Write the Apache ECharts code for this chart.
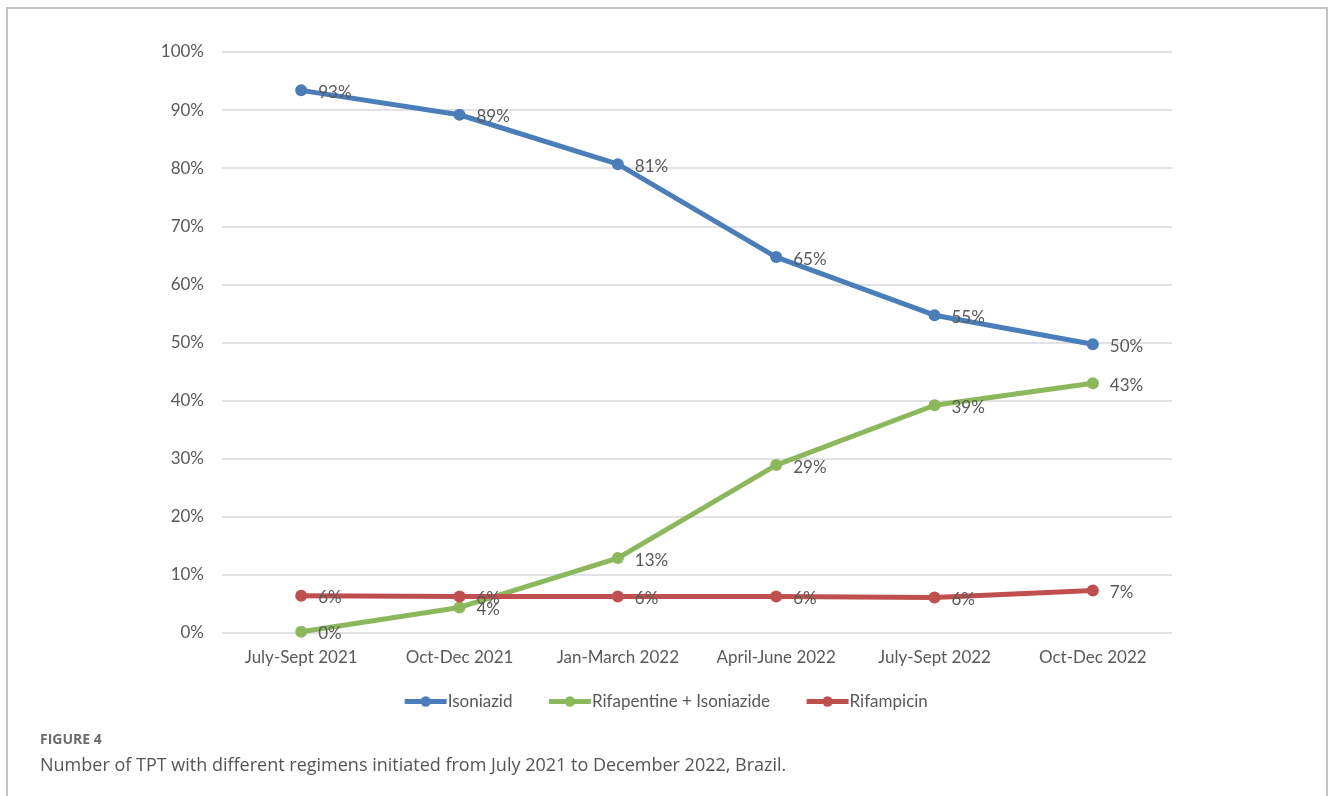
<!DOCTYPE html>
<html>
<head>
<meta charset="utf-8">
<script src="https://cdn.jsdelivr.net/npm/echarts@6/dist/echarts.min.js"></script>
<style>
  html, body { margin: 0; padding: 0; background: #fff; }
  #main { width: 1330px; height: 796px; }
</style>
</head>
<body>
<div id="main"></div>
<script>
// quarters on the x axis
const periods = ['July-Sept 2021', 'Oct-Dec 2021', 'Jan-March 2022', 'April-June 2022', 'July-Sept 2022', 'Oct-Dec 2022'];
// share of TPT by regimen (%)
const isoniazid = [93.4, 89.2, 80.7, 64.7, 54.7, 49.7];
const rifapentineIso = [0.2, 4.4, 12.9, 28.9, 39.2, 43.0];
const rifampicin = [6.4, 6.3, 6.3, 6.3, 6.1, 7.3];
const seriesNames = ['Isoniazid', 'Rifapentine + Isoniazide', 'Rifampicin'];

const font = 'Lato, "Open Sans", sans-serif';
const textColor = '#595959';

let myChart = echarts.init(document.getElementById('main'));

function lineSeries(name, data, color) {
  return {
    name: name,
    type: 'line',
    data: data,
    symbol: 'circle',
    symbolSize: 12,
    lineStyle: { width: 5, color: color },
    itemStyle: { color: color },
    label: {
      show: true,
      position: 'right',
      distance: 11,
      offset: [0, 2],
      color: textColor,
      fontFamily: font,
      fontSize: 17,
      formatter: p => Math.round(p.value) + '%'
    },
    emphasis: { disabled: true },
    z: name === 'Rifampicin' ? 3 : 2
  };
}

let option = {
  animation: false,
  grid: { left: 222, right: 158, top: 52, bottom: 163 },
  legend: {
    data: seriesNames,
    bottom: 81,
    left: 'center',
    itemWidth: 42,
    itemHeight: 13,
    itemGap: 34,
    lineStyle: { width: 5 },
    textStyle: { color: textColor, fontFamily: font, fontSize: 17, padding: [0, 0, 0, -4] }
  },
  xAxis: {
    type: 'category',
    data: periods,
    boundaryGap: true,
    axisLine: { show: false },
    axisTick: { show: false },
    axisLabel: { interval: 0, color: textColor, fontFamily: font, fontSize: 17, margin: 16 }
  },
  yAxis: {
    type: 'value',
    min: 0,
    max: 100,
    interval: 10,
    axisLine: { show: false },
    axisTick: { show: false },
    axisLabel: { color: textColor, fontFamily: font, fontSize: 17, margin: 18, formatter: '{value}%' },
    splitLine: { lineStyle: { color: '#d9d9d9', width: 1.5 } }
  },
  series: [
    lineSeries(seriesNames[0], isoniazid, '#4a7ebb'),
    lineSeries(seriesNames[1], rifapentineIso, '#8cb85c'),
    lineSeries(seriesNames[2], rifampicin, '#c0504d')
  ],
  graphic: [
    {
      type: 'rect',
      shape: { x: 7, y: 8, width: 1320, height: 800 },
      style: { fill: null, stroke: '#c4c4c4', lineWidth: 2 },
      silent: true
    },
    {
      type: 'text',
      left: 40,
      top: 733,
      style: { text: 'FIGURE 4', fill: '#6b6b6b', font: 'bold 14px "Open Sans", sans-serif' }
    },
    {
      type: 'text',
      left: 40,
      top: 757,
      style: {
        text: 'Number of TPT with different regimens initiated from July 2021 to December 2022, Brazil.',
        fill: '#555555',
        font: '18px "Open Sans", sans-serif'
      }
    }
  ]
};

myChart.setOption(option);
</script>
</body>
</html>
